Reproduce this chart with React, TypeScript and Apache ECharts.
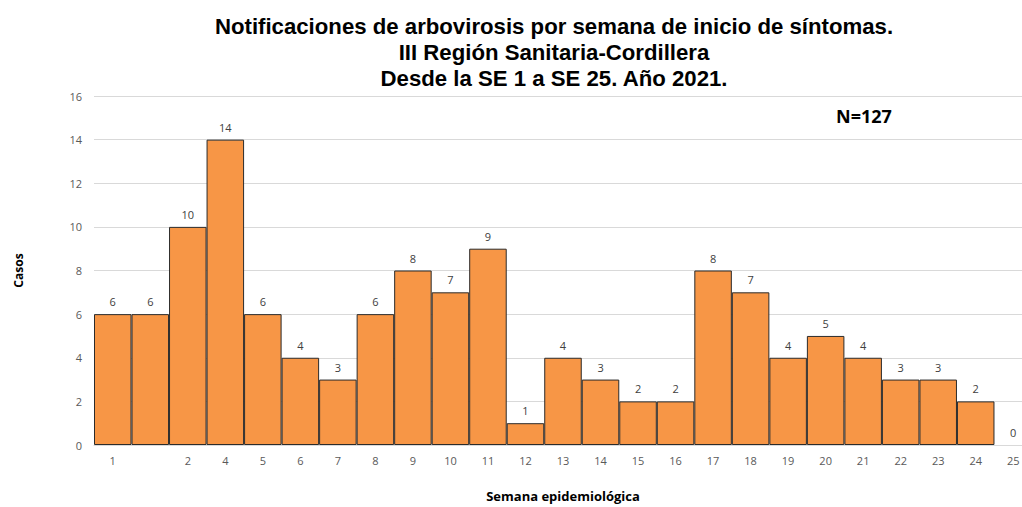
import React, { useEffect, useRef } from "react";
import * as echarts from "echarts";

const categories = ["1", "", "2", "4", "5", "6", "7", "8", "9", "10", "11", "12", "13", "14", "15", "16", "17", "18", "19", "20", "21", "22", "23", "24", "25"];
const casos = [6, 6, 10, 14, 6, 4, 3, 6, 8, 7, 9, 1, 4, 3, 2, 2, 8, 7, 4, 5, 4, 3, 3, 2, 0];
const titleLines = [
  "Notificaciones de arbovirosis por semana de inicio de síntomas.",
  "III Región Sanitaria-Cordillera",
  "Desde la SE 1 a SE 25. Año 2021.",
];
const totalLabel = "N=127";
const yAxisName = "Casos";
const xAxisName = "Semana epidemiológica";

export default function App() {
  const ref = useRef<HTMLDivElement>(null);
  useEffect(() => {
    document.body.style.margin = "0";
    document.body.style.overflow = "hidden";
    const chart = echarts.init(ref.current!, undefined, { renderer: "svg" });
    chart.setOption({
      animation: false,
      title: {
        text: titleLines.join("\n"),
        left: 549,
        textAlign: "center",
        top: 8,
        textStyle: {
          fontFamily: "Liberation Sans",
          fontWeight: "bold",
          fontSize: 22.2,
          lineHeight: 26,
          color: "#000",
        },
      },
      graphic: [
        {
          type: "text",
          left: 836,
          top: 107,
          style: {
            text: totalLabel,
            font: "bold 18px 'Open Sans'",
            fill: "#000",
          },
        },
      ],
      grid: { left: 94, right: 0, top: 96, bottom: 57, containLabel: false },
      xAxis: {
        type: "category",
        data: categories,
        name: xAxisName,
        nameLocation: "middle",
        nameGap: 44,
        nameTextStyle: { fontFamily: "Open Sans", fontWeight: "bold", fontSize: 13, color: "#000" },
        axisLine: { lineStyle: { color: "#d9d9d9" } },
        axisTick: { show: false },
        axisLabel: { interval: 0, fontFamily: "Open Sans", fontSize: 11, color: "#595959", margin: 10 },
      },
      yAxis: {
        type: "value",
        min: 0,
        max: 16,
        interval: 2,
        name: yAxisName,
        nameLocation: "middle",
        nameGap: 70,
        nameTextStyle: { fontFamily: "Open Sans", fontWeight: "bold", fontSize: 12, color: "#000" },
        axisLabel: { fontFamily: "Open Sans", fontSize: 11, color: "#595959", margin: 12 },
        splitLine: { lineStyle: { color: "#d9d9d9" } },
        axisLine: { show: false },
        axisTick: { show: false },
      },
      series: [
        {
          type: "bar",
          data: casos.map((v) => (v === 0 ? { value: v, itemStyle: { borderWidth: 0 } } : v)),
          barCategoryGap: "0%",
          itemStyle: { color: "#F79646", borderColor: "#2b2b2b", borderWidth: 1 },
          label: {
            show: true,
            position: "top",
            distance: 7,
            fontFamily: "Open Sans",
            fontSize: 11,
            color: "#404040",
          },
        },
      ],
    });
    return () => chart.dispose();
  }, []);
  return (
    <div style={{ width: 1022, height: 507, overflow: "hidden", position: "relative" }}>
      <div ref={ref} style={{ width: 1032, height: 507 }} />
    </div>
  );
}
